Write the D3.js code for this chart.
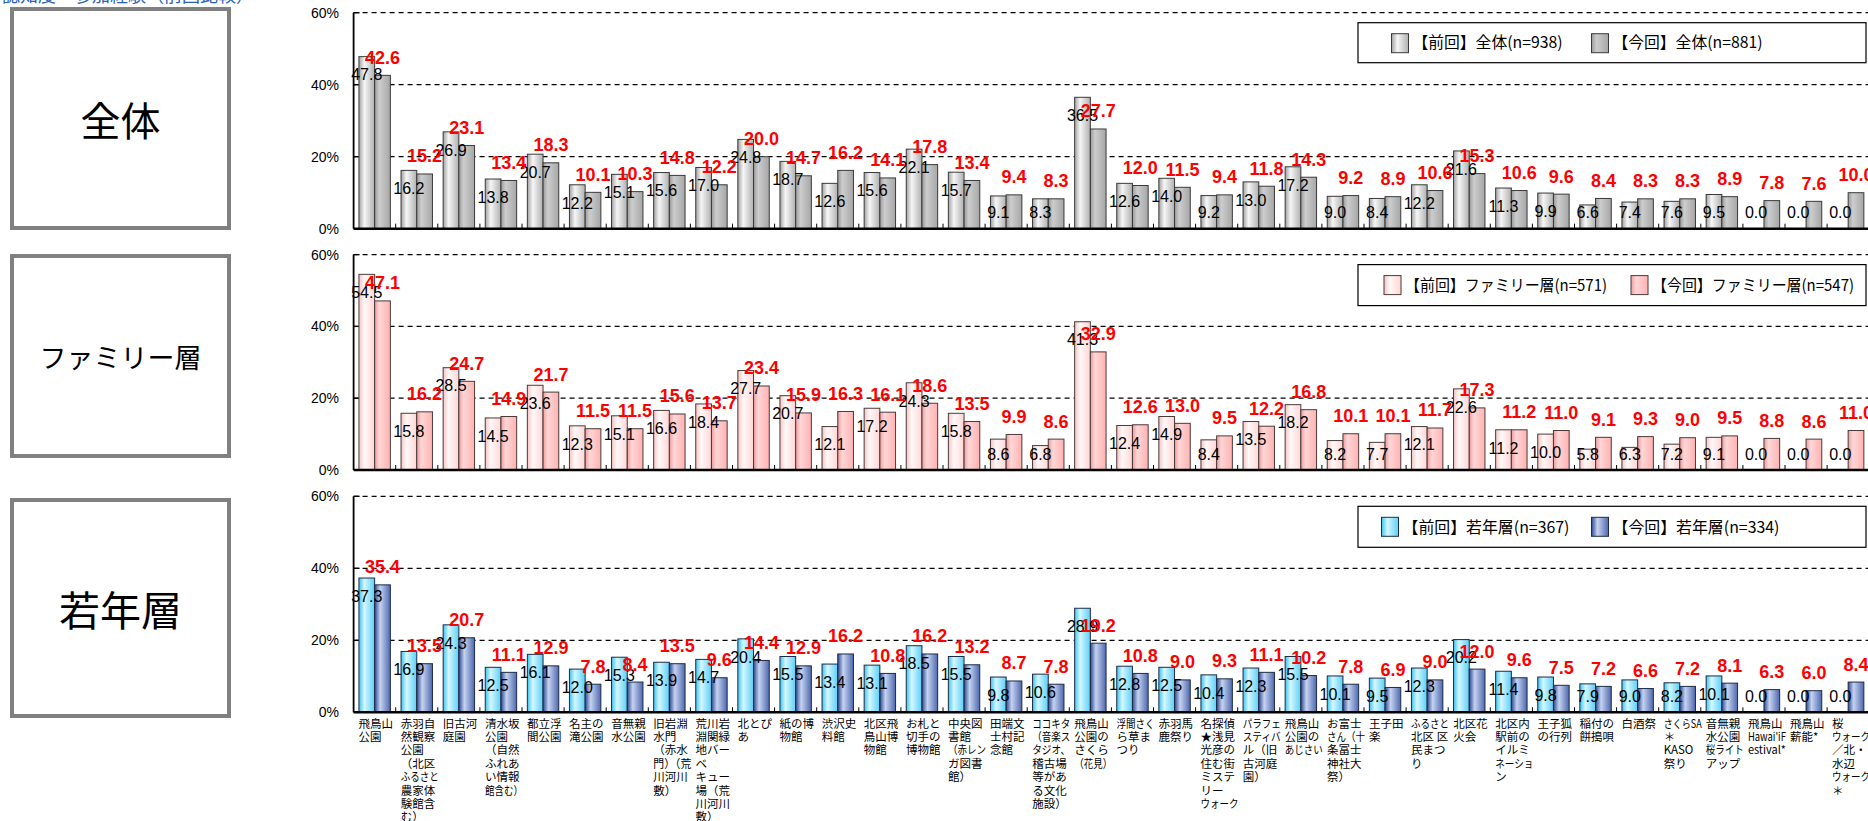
<!DOCTYPE html>
<html><head><meta charset="utf-8">
<script src="https://cdn.jsdelivr.net/npm/d3@7"></script>
<style>
html,body{margin:0;padding:0;background:#fff;}
svg{display:block;}
</style>
</head><body>
<svg id="chart" width="1868" height="821"></svg>
<script>
// ---------- DATA ----------
const categories = [
  ["飛鳥山","公園"],
  ["赤羽自","然観察","公園","（北区","ふるさと","農家体","験館含","む）"],
  ["旧古河","庭園"],
  ["清水坂","公園","（自然","ふれあ","い情報","館含む）"],
  ["都立浮","間公園"],
  ["名主の","滝公園"],
  ["音無親","水公園"],
  ["旧岩淵","水門","（赤水","門）（荒","川河川","敷）"],
  ["荒川岩","淵関緑","地バー","ベ","キュー","場（荒","川河川","敷）"],
  ["北とぴ","あ"],
  ["紙の博","物館"],
  ["渋沢史","料館"],
  ["北区飛","鳥山博","物館"],
  ["お札と","切手の","博物館"],
  ["中央図","書館","（赤レン","ガ図書","館）"],
  ["田端文","士村記","念館"],
  ["ココキタ","（音楽ス","タジオ、","稽古場","等があ","る文化","施設）"],
  ["飛鳥山","公園の","さくら","（花見）"],
  ["浮間さく","ら草ま","つり"],
  ["赤羽馬","鹿祭り"],
  ["名探偵","★浅見","光彦の","住む街","ミステ","リー","ウォーク"],
  ["パラフェ","スティバ","ル（旧","古河庭","園）"],
  ["飛鳥山","公園の","あじさい"],
  ["お富士","さん（十","条冨士","神社大","祭）"],
  ["王子田","楽"],
  ["ふるさと","北区 区","民まつ","り"],
  ["北区花","火会"],
  ["北区内","駅前の","イルミ","ネーショ","ン"],
  ["王子狐","の行列"],
  ["稲付の","餅搗唄"],
  ["白酒祭"],
  ["さくらSA","＊","KASO","祭り"],
  ["音無親","水公園","桜ライト","アップ"],
  ["飛鳥山","Hawai'iF","estival*"],
  ["飛鳥山","薪能*"],
  ["桜","ウォーク","／北・","水辺","ウォーク","＊"]
];

const allPrev = [47.8,16.2,26.9,13.8,20.7,12.2,15.1,15.6,17.0,24.8,18.7,12.6,15.6,22.1,15.7,9.1,8.3,36.5,12.6,14.0,9.2,13.0,17.2,9.0,8.4,12.2,21.6,11.3,9.9,6.6,7.4,7.6,9.5,0.0,0.0,0.0];
const allCurr = [42.6,15.2,23.1,13.4,18.3,10.1,10.3,14.8,12.2,20.0,14.7,16.2,14.1,17.8,13.4,9.4,8.3,27.7,12.0,11.5,9.4,11.8,14.3,9.2,8.9,10.6,15.3,10.6,9.6,8.4,8.3,8.3,8.9,7.8,7.6,10.0];

const famPrev = [54.5,15.8,28.5,14.5,23.6,12.3,15.1,16.6,18.4,27.7,20.7,12.1,17.2,24.3,15.8,8.6,6.8,41.3,12.4,14.9,8.4,13.5,18.2,8.2,7.7,12.1,22.6,11.2,10.0,5.8,6.3,7.2,9.1,0.0,0.0,0.0];
const famCurr = [47.1,16.2,24.7,14.9,21.7,11.5,11.5,15.6,13.7,23.4,15.9,16.3,16.1,18.6,13.5,9.9,8.6,32.9,12.6,13.0,9.5,12.2,16.8,10.1,10.1,11.7,17.3,11.2,11.0,9.1,9.3,9.0,9.5,8.8,8.6,11.0];

const youPrev = [37.3,16.9,24.3,12.5,16.1,12.0,15.3,13.9,14.7,20.4,15.5,13.4,13.1,18.5,15.5,9.8,10.6,28.9,12.8,12.5,10.4,12.3,15.5,10.1,9.5,12.3,20.2,11.4,9.8,7.9,9.0,8.2,10.1,0.0,0.0,0.0];
const youCurr = [35.4,13.5,20.7,11.1,12.9,7.8,8.4,13.5,9.6,14.4,12.9,16.2,10.8,16.2,13.2,8.7,7.8,19.2,10.8,9.0,9.3,11.1,10.2,7.8,6.9,9.0,12.0,9.6,7.5,7.2,6.6,7.2,8.1,6.3,6.0,8.4];

const yTicks = [0, 20, 40, 60];
const yTickLabels = ["0%", "20%", "40%", "60%"];

const panelTitles = ["全体", "ファミリー層", "若年層"];
const legendPrev = ["【前回】全体(n=938)", "【前回】ファミリー層(n=571)", "【前回】若年層(n=367)"];
const legendCurr = ["【今回】全体(n=881)", "【今回】ファミリー層(n=547)", "【今回】若年層(n=334)"];

// ---------- LAYOUT ----------
const svg = d3.select("#chart");
const X0 = 353.6, STEP = 42.1, N = categories.length;
const x = d3.scaleBand().domain(d3.range(N)).range([X0, X0 + N * STEP]).paddingInner(0).paddingOuter(0);
const xs = d3.scaleBand().domain([0, 1]).range([0, x.bandwidth()]).paddingInner(0).paddingOuter(0.34);
const RIGHT = 1868;

const panels = [
  {base: 228.7, top: 12.7, prev: allPrev, curr: allCurr, box: [12, 9, 217, 219], titleSize: 40,
   gp: [["0%","#a2a2a2"],["35%","#f6f6f6"],["100%","#b0b0b0"]],
   gc: [["0%","#9a9a9a"],["30%","#cdcdcd"],["100%","#a6a6a6"]], stroke: "#3a3a3a",
   legend: {x: 1358, w: 508, h: 40, s1: 1391.5, s2: 1591.5, tw: 150}},
  {base: 470.0, top: 254.6, prev: famPrev, curr: famCurr, box: [12, 256, 217, 200], titleSize: 27,
   gp: [["0%","#f5c4c4"],["35%","#fff8f8"],["100%","#ffd6d6"]],
   gc: [["0%","#ee9c9c"],["30%","#ffd6d6"],["100%","#ffb2b2"]], stroke: "#4a3a3a",
   legend: {x: 1358, w: 508, h: 41, s1: 1384, s2: 1631, tw: 202}},
  {base: 712.3, top: 496.3, prev: youPrev, curr: youCurr, box: [12, 500, 217, 216], titleSize: 41,
   gp: [["0%","#3cc4ee"],["35%","#d4f7ff"],["100%","#5ccff6"]],
   gc: [["0%","#2c4890"],["35%","#c6d3f0"],["100%","#4e68ae"]], stroke: "#1c2c48",
   legend: {x: 1358, w: 508, h: 41, s1: 1381.5, s2: 1591.5, tw: 167}}
];

const defs = svg.append("defs");
const NUMFONT = "'Liberation Sans', Arial, sans-serif";
const JPFONT = "'Noto Sans CJK JP', 'Noto Sans', sans-serif";

// partially cut blue heading at very top-left (only its lower edge is inside the page)
svg.append("text").attr("x", 2).attr("y", 2).attr("font-family", JPFONT).attr("font-size", 18)
  .attr("fill", "#2a62b8").text("認知度・参加経験（前回比較）");

panels.forEach((p, pi) => {
  const y = d3.scaleLinear().domain([0, 60]).range([p.base, p.top]);
  const mkGrad = (id, stops) => {
    const g = defs.append("linearGradient").attr("id", id).attr("x1", 0).attr("x2", 1).attr("y1", 0).attr("y2", 0);
    stops.forEach(s => g.append("stop").attr("offset", s[0]).attr("stop-color", s[1]));
  };
  mkGrad("gp" + pi, p.gp);
  mkGrad("gc" + pi, p.gc);

  // left title box
  svg.append("rect").attr("x", p.box[0]).attr("y", p.box[1]).attr("width", p.box[2]).attr("height", p.box[3])
    .attr("fill", "#fff").attr("stroke", "#808080").attr("stroke-width", 4);
  svg.append("text").attr("x", p.box[0] + p.box[2] / 2).attr("y", p.box[1] + p.box[3] / 2)
    .attr("text-anchor", "middle").attr("dominant-baseline", "central")
    .attr("font-family", JPFONT).attr("font-size", p.titleSize).attr("fill", "#000").text(panelTitles[pi]);

  const g = svg.append("g");

  // gridlines
  g.selectAll(".grid").data(yTicks.filter(t => t > 0)).join("line")
    .attr("x1", X0).attr("x2", RIGHT).attr("y1", d => y(d)).attr("y2", d => y(d))
    .attr("stroke", "#000").attr("stroke-width", 1.3).attr("stroke-dasharray", "5,4");
  // y tick marks (inside)
  g.selectAll(".yt").data(yTicks).join("line")
    .attr("x1", X0).attr("x2", X0 + 6).attr("y1", d => y(d)).attr("y2", d => y(d))
    .attr("stroke", "#000").attr("stroke-width", 1.3);
  // y labels
  g.selectAll(".yl").data(yTicks).join("text")
    .attr("x", 339).attr("y", d => y(d)).attr("dy", "0.36em").attr("text-anchor", "end")
    .attr("font-family", NUMFONT).attr("font-size", 14).attr("fill", "#000")
    .text((d, i) => yTickLabels[i]);

  // bars
  const series = [p.prev, p.curr];
  series.forEach((vals, si) => {
    g.selectAll(".bar" + si).data(vals).join("rect")
      .attr("x", (d, i) => x(i) + xs(si))
      .attr("y", d => y(d))
      .attr("width", xs.bandwidth())
      .attr("height", d => p.base - y(d))
      .attr("fill", `url(#${si ? "gc" : "gp"}${pi})`)
      .attr("stroke", p.stroke).attr("stroke-width", d => d > 0 ? 1 : 0);
  });

  // axes lines
  g.append("line").attr("x1", X0).attr("x2", X0).attr("y1", p.top).attr("y2", p.base)
    .attr("stroke", "#000").attr("stroke-width", 1.8);
  g.append("line").attr("x1", X0).attr("x2", RIGHT).attr("y1", p.base).attr("y2", p.base)
    .attr("stroke", "#000").attr("stroke-width", 2.6);
  // category tick marks
  g.selectAll(".xt").data(d3.range(1, N)).join("line")
    .attr("x1", d => x(d)).attr("x2", d => x(d)).attr("y1", p.base - 5).attr("y2", p.base)
    .attr("stroke", "#000").attr("stroke-width", 1);

  // data labels: previous (black, inside end)
  g.selectAll(".lp").data(p.prev).join("text")
    .attr("x", (d, i) => x(i) + xs(0) + xs.bandwidth() / 2)
    .attr("y", d => Math.min(y(d) + 18, p.base - 16))
    .attr("dy", "0.36em").attr("text-anchor", "middle")
    .attr("font-family", NUMFONT).attr("font-size", 16).attr("fill", "#000")
    .text(d => d.toFixed(1));
  // data labels: current (red bold, above)
  g.selectAll(".lc").data(p.curr).join("text")
    .attr("x", (d, i) => x(i) + xs(1) + xs.bandwidth() / 2)
    .attr("y", d => y(d) - 18)
    .attr("dy", "0.36em").attr("text-anchor", "middle")
    .attr("font-family", NUMFONT).attr("font-size", 18).attr("font-weight", "bold").attr("fill", "#ff0000")
    .text(d => d.toFixed(1));

  // legend
  const L = p.legend;
  const ly = p.top + 10;
  const lg = svg.append("g");
  lg.append("rect").attr("x", L.x).attr("y", ly).attr("width", L.w).attr("height", L.h)
    .attr("fill", "#fff").attr("stroke", "#000").attr("stroke-width", 1.2);
  [[L.s1, "gp", legendPrev[pi]], [L.s2, "gc", legendCurr[pi]]].forEach(([sx, gid, txt]) => {
    lg.append("rect").attr("x", sx).attr("y", ly + 11).attr("width", 17).attr("height", 19)
      .attr("fill", `url(#${gid}${pi})`).attr("stroke", p.stroke).attr("stroke-width", 1);
    lg.append("text").attr("x", sx + 21).attr("y", ly + L.h / 2).attr("dy", "0.36em")
      .attr("font-family", JPFONT).attr("font-size", 16).attr("fill", "#000")
      .attr("textLength", L.tw).attr("lengthAdjust", "spacingAndGlyphs").text(txt);
  });
});

// category labels under the bottom panel
const cl = svg.append("g");
const MAXW = 38;
categories.forEach((lines, i) => {
  const t = cl.append("text").attr("font-family", JPFONT).attr("font-size", 11.5).attr("fill", "#000");
  lines.forEach((ln, j) => {
    const ts = t.append("tspan").attr("x", x(i) + 5).attr("y", 727.5 + j * 13.4).text(ln);
    const w = ts.node().getComputedTextLength();
    if (w > MAXW) ts.attr("textLength", MAXW).attr("lengthAdjust", "spacingAndGlyphs");
  });
});
</script>
</body></html>
